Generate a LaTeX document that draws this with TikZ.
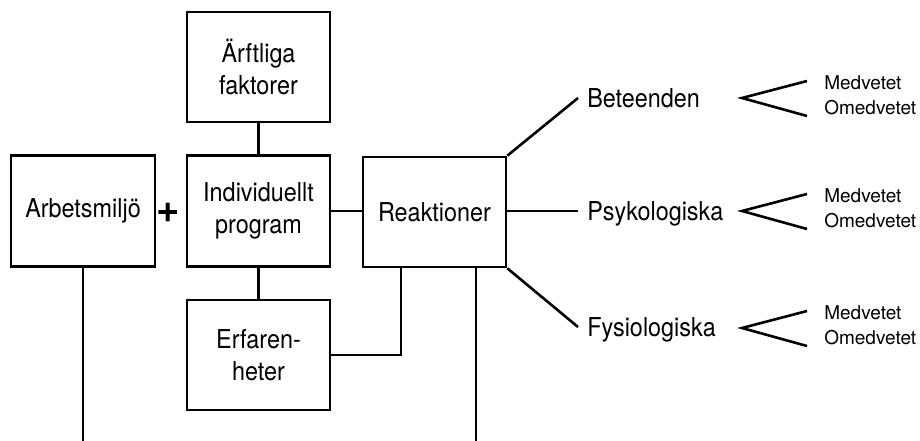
\documentclass[tikz,border=0pt]{standalone}
\usepackage{fontspec}
\setmainfont{TeX Gyre Heros}
\newfontfamily\mainf{TeX Gyre Heros}[FakeStretch=0.9]
\newfontfamily\smallf{TeX Gyre Heros}
\begin{document}
\begin{tikzpicture}[x=1pt,y=-1pt,line width=2.6pt,
  box/.style={draw,rectangle,minimum width=143pt,minimum height=110pt,inner sep=0pt,
    align=center,font=\mainf\fontsize{26}{32}\selectfont},
  cat/.style={anchor=west,inner xsep=8pt,inner ysep=0pt,text height=18pt,text depth=0pt,
    font=\mainf\fontsize{26}{32}\selectfont},
  sub/.style={anchor=west,inner sep=0pt,align=left,font=\smallf\fontsize{19}{25}\selectfont}]
\useasboundingbox (0,0) rectangle (920,441);
% boxes
\node[box] (aerft) at (258.5,67) {Ärftliga\\faktorer};
\node[box,minimum height=111pt] (indiv) at (258.5,211) {Individuellt\\program};
\node[box,minimum width=144pt,minimum height=111pt] (arb) at (83,211) {Arbetsmiljö};
\node[box] (erf) at (258.5,355) {Erfaren-\\heter};
\node[box] (reak) at (434.5,212) {Reaktioner};
\node[font=\bfseries\fontsize{40}{40}\selectfont,inner sep=0pt] (plus) at (168.5,213) {+};
% connectors
\draw (aerft.south) -- (indiv.north);
\draw (indiv.south) -- (erf.north);
\draw (indiv.east) -- (indiv.east -| reak.west);
\coordinate (rb) at (401,267);
\draw (erf.east |- 0,355) -| (rb);
\coordinate (arbEnd) at (83,441);
\draw (arb.south) -- (arbEnd);
\coordinate (reakEnd) at (476,441);
\draw (reakEnd |- reak.south) -- (reakEnd);
% categories
\node[cat] (bet) at (578,98) {Beteenden};
\node[cat] (psy) at (578,211) {Psykologiska};
\node[cat] (fys) at (578,327) {Fysiologiska};
\draw (reak.north east) -- (bet.west);
\draw (reak.east |- psy.west) -- (psy.west);
\draw (reak.south east) -- (fys.west);
% sub items
\foreach \n/\y/\ty in {bet/98/95.5, psy/211/208, fys/328/325}{
  \node[sub] (s\n) at (823,\ty) {Medvetet\\Omedvetet};
  \coordinate (a\n) at (742,\y);
  \coordinate (u\n) at (807,\y-17);
  \coordinate (l\n) at (807,\y+18);
  \draw (u\n) -- (a\n) -- (l\n);
}
\end{tikzpicture}
\end{document}
